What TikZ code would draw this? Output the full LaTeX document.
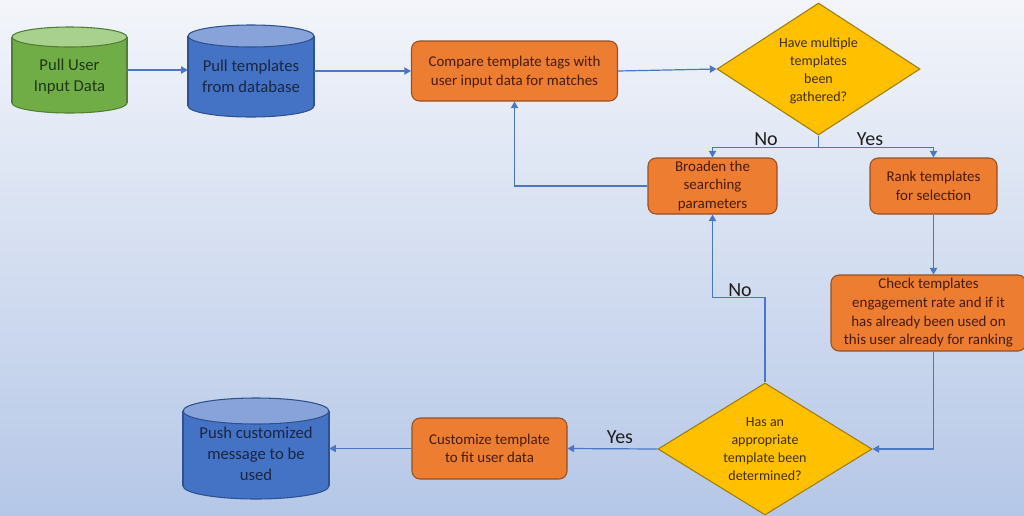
\documentclass[tikz,border=0pt]{standalone}
\usepackage{fontspec}
\setmainfont{Carlito}
\usetikzlibrary{shapes.geometric,arrows.meta}

\definecolor{bgtop}{RGB}{243,245,250}
\definecolor{bgbot}{RGB}{181,199,231}
\definecolor{greenbody}{RGB}{112,173,71}
\definecolor{greentop}{RGB}{169,209,142}
\definecolor{greenline}{RGB}{80,126,50}
\definecolor{greentext}{RGB}{30,56,16}
\definecolor{bluebody}{RGB}{68,114,196}
\definecolor{bluetop}{RGB}{135,163,218}
\definecolor{blueline}{RGB}{47,82,143}
\definecolor{bluetext}{RGB}{26,38,66}
\definecolor{procfill}{RGB}{237,125,49}
\definecolor{procline}{RGB}{150,80,35}
\definecolor{proctext}{RGB}{70,28,4}
\definecolor{decfill}{RGB}{255,192,0}
\definecolor{decline}{RGB}{160,125,10}
\definecolor{dectext}{RGB}{64,46,0}
\definecolor{linkblue}{RGB}{74,118,196}
\definecolor{labeltext}{RGB}{30,30,30}

% one pixel of the drawing grid
\newcommand\upx{0.75pt}

% database drum: left, top, right, bottom, ellipse half-height, colour prefix
\newcommand\tank[6]{%
  \pgfmathsetmacro\tcx{(#1+#3)/2}%
  \pgfmathsetmacro\trx{(#3-#1)/2}%
  \filldraw[fill=#6body, draw=#6line, line width=0.8pt]
    (\tcx,#4-#5) ellipse [x radius=\trx, y radius=#5];
  \fill[#6body] (#1,#2+#5) rectangle (#3,#4-#5);
  \draw[#6line, line width=0.8pt] (#1,#2+#5) -- (#1,#4-#5) (#3,#2+#5) -- (#3,#4-#5);
  \filldraw[fill=#6top, draw=#6line, line width=0.8pt]
    (\tcx,#2+#5) ellipse [x radius=\trx, y radius=#5];
}
% centred lines, moved down by #1 without changing the node's size
\newcommand\lowered[2]{\raisebox{-#1}[\height][\depth]{\begin{tabular}{@{}c@{}}#2\end{tabular}}}

\tikzset{
  flow/.style={draw=linkblue, line width=0.9pt, -{Triangle[length=5pt,width=5.5pt]}},
  procbox/.style={rectangle, rounded corners=6pt, fill=procfill, draw=procline,
    line width=0.8pt, text=proctext, align=center, inner sep=0pt,
    font=\fontsize{11.2}{14}\selectfont},
  decision/.style={diamond, fill=decfill, draw=decline, line width=0.8pt,
    text=dectext, align=center, inner sep=0pt,
    font=\fontsize{10.5}{13.4}\selectfont},
  drum/.style={rectangle, inner sep=0pt, align=center,
    font=\fontsize{12.5}{15.6}\selectfont},
  answer/.style={text=labeltext, inner sep=0pt, font=\fontsize{15}{17}\selectfont}
}

\begin{document}
\begin{tikzpicture}[x=0.75pt, y=-0.75pt]
  % backdrop
  \shade[top color=bgtop, bottom color=bgbot] (0,0) rectangle (1024,515);
  \useasboundingbox (0,0) rectangle (1024,515);

  % drums
  \tank{12}{27}{127}{113}{10}{green}
  \node[drum, text=greentext, minimum width=115*\upx, minimum height=86*\upx]
    (pull) at (69.5,70) {\lowered{5pt}{Pull User\\Input Data}};

  \tank{188}{25}{314}{117}{11}{blue}
  \node[drum, text=bluetext, minimum width=126*\upx, minimum height=92*\upx]
    (tpl) at (251,71) {\lowered{5pt}{Pull templates\\from database}};

  \tank{183}{398}{329}{499}{13}{blue}
  \node[drum, text=bluetext, minimum width=146*\upx, minimum height=101*\upx]
    (push) at (256,448.5) {\lowered{5pt}{Push customized\\message to be\\used}};

  % process steps
  \node[procbox, minimum width=206*\upx, minimum height=60*\upx]
    (cmp) at (514.5,71) {\lowered{1pt}{Compare template tags with\\user input data for matches}};
  \node[procbox, minimum width=129*\upx, minimum height=56*\upx]
    (broad) at (712.5,186) {Broaden the\\searching\\parameters};
  \node[procbox, minimum width=127*\upx, minimum height=56*\upx]
    (rank) at (933.5,186) {Rank templates\\for selection};
  \node[procbox, minimum width=195*\upx, minimum height=76*\upx]
    (check) at (928.5,313) {Check templates\\engagement rate and if it\\has already been used on\\this user already for ranking};
  \node[procbox, minimum width=155*\upx, minimum height=61*\upx]
    (cust) at (489.5,448.5) {Customize template\\to fit user data};

  % decisions
  \node[decision, aspect=1.54, minimum width=203*\upx, minimum height=132*\upx]
    (q1) at (818.5,69) {\lowered{1.5pt}{Have multiple\\templates\\been\\gathered?}};
  \node[decision, aspect=1.62, minimum width=214*\upx, minimum height=132*\upx]
    (q2) at (765,449) {Has an\\appropriate\\template been\\determined?};

  % connectors
  \draw[flow] (pull.east) -- (pull.east -| tpl.west);
  \draw[flow] (tpl.east) -- (tpl.east -| cmp.west);
  \draw[flow] (cmp.east) -- (q1.west);
  \draw[flow] (q1.south) -- ++(0,12) -| (broad.north);
  \draw[flow] (q1.south) -- ++(0,12) -| (rank.north);
  \draw[flow] (broad.west) -| (cmp.south);
  \draw[flow] (rank.south) -- (rank.south |- check.north);
  \draw[flow] (check.south -| rank.south) |- (q2.east);
  \draw[flow] (q2.north) -- ++(0,-85) -| (broad.south);
  \draw[flow] (q2.west) -- (cust.east);
  \draw[flow] (cust.west) -- (cust.west -| push.east);

  % branch labels
  \node[answer] (no1) at (766,139) {No};
  \node[answer] (yes1) at (870,139) {Yes};
  \node[answer] (no2) at (740,290) {No};
  \node[answer] (yes2) at (620,437) {Yes};
\end{tikzpicture}
\end{document}
